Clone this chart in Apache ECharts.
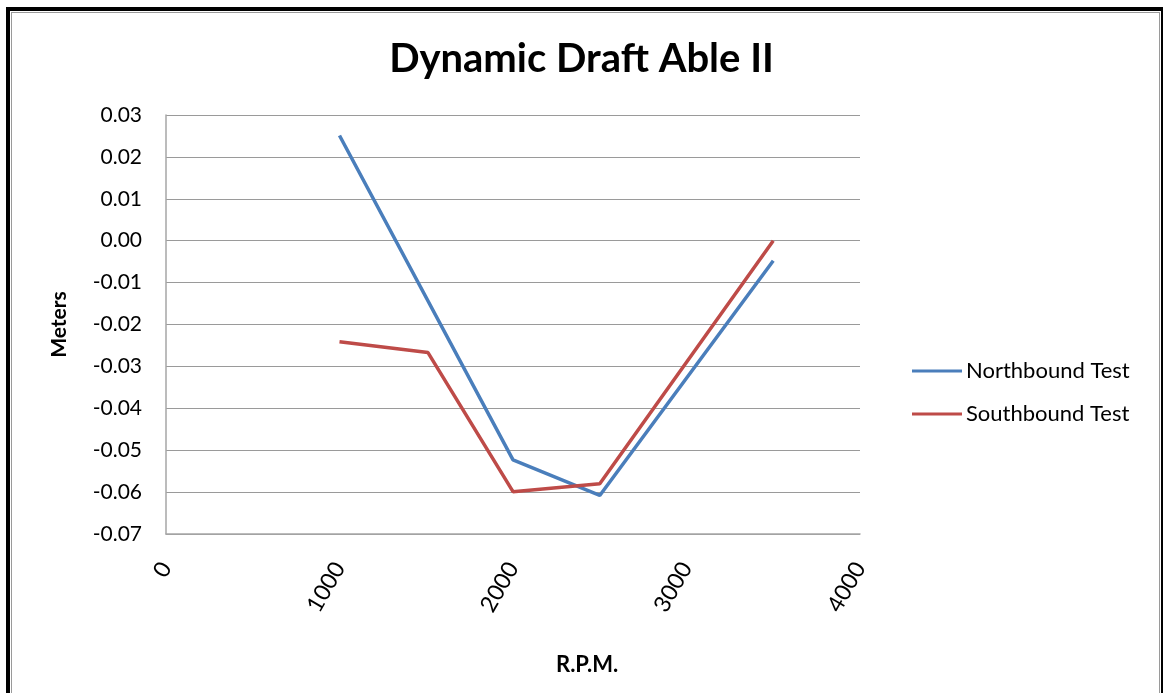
<!DOCTYPE html>
<html>
<head>
<meta charset="utf-8">
<script src="https://cdn.jsdelivr.net/npm/echarts@6/dist/echarts.min.js"></script>
<style>
  html, body { margin: 0; padding: 0; background: #fff; }
  #chart { width: 1163px; height: 693px; }
</style>
</head>
<body>
<div id="chart"></div>
<script>
// Engine speed (R.P.M.) and measured dynamic draft (meters)
const northRpm = [1000, 2000, 2500, 3500];
const northDraft = [0.0251, -0.0523, -0.0608, -0.0048];
const southRpm = [1000, 1510, 2000, 2500, 3500];
const southDraft = [-0.0241, -0.0267, -0.0599, -0.0580, 0.0000];

const seriesNames = ['Northbound Test', 'Southbound Test'];
const seriesColors = ['#4a7ebb', '#be4b48'];

const zip = (xs, ys) => xs.map((x, i) => [x, ys[i]]);

const FONT = 'Lato, "Open Sans", sans-serif';

const chart = echarts.init(document.getElementById('chart'), null, { renderer: 'canvas' });

chart.setOption({
  backgroundColor: '#ffffff',
  animation: false,
  title: {
    text: 'Dynamic Draft Able II',
    left: 'center',
    top: 34,
    textStyle: { fontFamily: FONT, fontWeight: 'bold', fontSize: 40, color: '#000' }
  },
  grid: { left: 166, right: 303, top: 115, bottom: 159, containLabel: false },
  legend: {
    orient: 'vertical',
    left: 907,
    top: 355,
    itemWidth: 50,
    itemHeight: 3,
    itemGap: 21,
    icon: 'rect',
    data: seriesNames,
    textStyle: { fontFamily: FONT, fontSize: 22, color: '#000', padding: [0, 0, 0, -1] }
  },
  xAxis: {
    type: 'value',
    min: 0,
    max: 4000,
    interval: 1000,
    axisLine: { show: true, onZero: false, lineStyle: { color: '#a6a6a6', width: 1.5 } },
    axisTick: { show: false },
    splitLine: { show: false },
    axisLabel: {
      rotate: 60,
      margin: 30,
      fontFamily: FONT,
      fontSize: 23,
      color: '#000',
      formatter: v => String(v)
    }
  },
  yAxis: {
    type: 'value',
    min: -0.07,
    max: 0.03,
    interval: 0.01,
    name: 'Meters',
    nameLocation: 'middle',
    nameGap: 96,
    nameTextStyle: { fontFamily: FONT, fontWeight: 'bold', fontSize: 21, color: '#000' },
    axisLine: { show: true, lineStyle: { color: '#a6a6a6', width: 1.5 } },
    axisTick: { show: false },
    splitLine: { show: true, lineStyle: { color: '#9a9a9a', width: 1.2 } },
    axisLabel: {
      margin: 24,
      fontFamily: FONT,
      fontSize: 21,
      color: '#000',
      formatter: v => v.toFixed(2)
    }
  },
  series: [
    {
      name: seriesNames[0],
      type: 'line',
      data: zip(northRpm, northDraft),
      symbol: 'none',
      color: seriesColors[0],
      lineStyle: { width: 3.5, color: seriesColors[0] }
    },
    {
      name: seriesNames[1],
      type: 'line',
      data: zip(southRpm, southDraft),
      symbol: 'none',
      color: seriesColors[1],
      lineStyle: { width: 3.5, color: seriesColors[1] }
    }
  ],
  graphic: [
    // horizontal axis title
    {
      type: 'text',
      left: 556,
      top: 654,
      style: { text: 'R.P.M.', fontFamily: FONT, fontWeight: 'bold', fontSize: 22, fill: '#000' },
      silent: true
    },
    // page frame: heavy black rule with a thin grey inner rule
    { type: 'rect', shape: { x: 6, y: 7, width: 1157, height: 4 }, style: { fill: '#000' }, silent: true },
    { type: 'rect', shape: { x: 6, y: 7, width: 4, height: 686 }, style: { fill: '#000' }, silent: true },
    { type: 'rect', shape: { x: 1161, y: 7, width: 2, height: 686 }, style: { fill: '#000' }, silent: true },
    { type: 'rect', shape: { x: 11, y: 12, width: 1, height: 681 }, style: { fill: '#9a9a9a' }, silent: true },
    { type: 'rect', shape: { x: 11, y: 12, width: 1149, height: 1 }, style: { fill: '#9a9a9a' }, silent: true },
    { type: 'rect', shape: { x: 1159, y: 12, width: 1, height: 681 }, style: { fill: '#9a9a9a' }, silent: true }
  ]
});
</script>
</body>
</html>
